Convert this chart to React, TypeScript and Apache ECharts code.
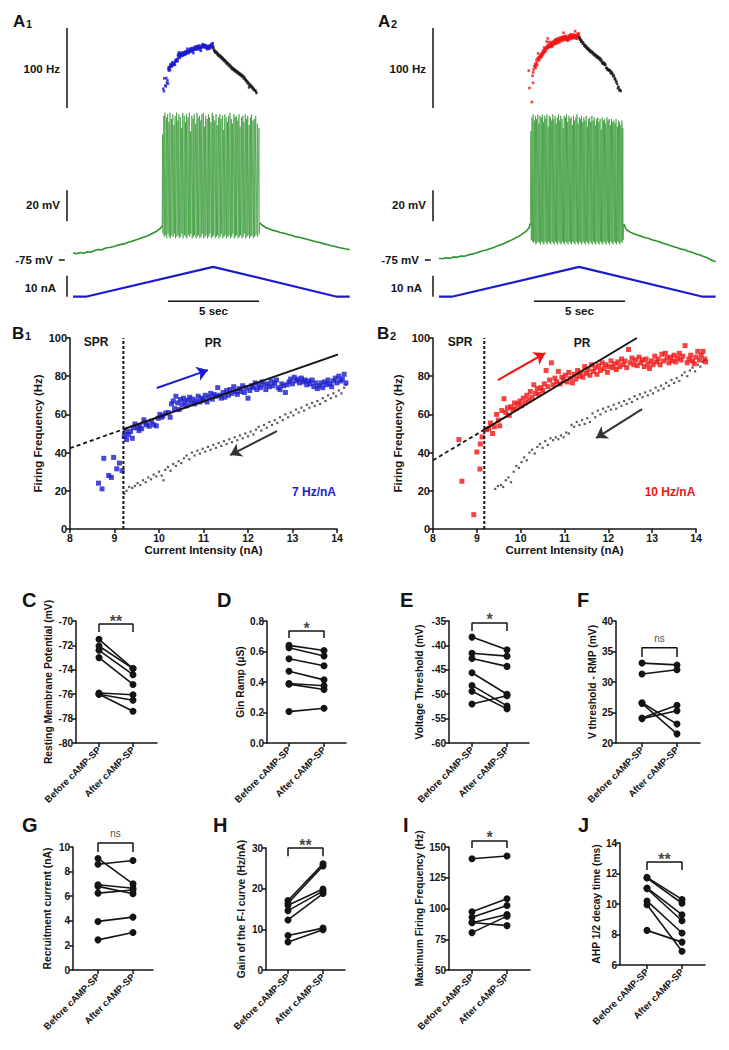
import React, { useEffect, useRef } from "react";
import * as echarts from "echarts";

const FONT = 'Arial, "Liberation Sans", Helvetica, sans-serif';
const INK = "#141414";
const GREEN = "#2a932a";
const BLUE = "#1c1ccd";
const RED = "#f01414";

// ---------- current ramp (time s, current nA) ----------
const rampTime = [0, 0.7, 7.7, 14.5, 15.2];
const rampCurrent = [0, 0, 14.2, 0, 0];

// ---------- B1 : control F-I relation (current nA, frequency Hz) ----------
const b1Ascending = [
  [8.64, 24], [8.72, 21], [8.76, 37], [8.87, 28], [8.93, 27], [8.98, 37.5], [9.05, 31.5], [9.11, 34.5], [9.17, 30.5],
  [9.22, 48.5], [9.25, 51], [9.27, 46.8], [9.31, 49.5], [9.36, 51], [9.4, 47.5], [9.42, 53], [9.46, 55], [9.51, 53],
  [9.55, 51.5], [9.57, 54], [9.61, 52.5], [9.66, 57.2], [9.7, 55.5], [9.72, 54.5], [9.78, 53.8], [9.83, 56.4], [9.88, 54.6],
  [9.94, 54], [9.98, 58], [10.02, 60], [10.06, 58.5], [10.09, 59.3], [10.15, 60.7], [10.21, 61], [10.25, 58.5], [10.28, 65.5],
  [10.32, 67], [10.35, 63], [10.38, 69.5], [10.42, 66], [10.45, 62.5], [10.48, 67.8], [10.52, 65], [10.55, 68.5], [10.58, 66.5],
  [10.62, 64.5], [10.65, 67.5], [10.69, 69], [10.72, 66], [10.76, 68], [10.8, 65.5], [10.84, 67], [10.88, 69.5], [10.92, 66.5],
  [10.96, 68.5], [11.0, 67.5], [11.04, 70], [11.08, 66.5], [11.12, 69], [11.16, 71], [11.2, 68], [11.24, 70.5], [11.28, 69.5],
  [11.32, 74], [11.36, 70], [11.4, 68.5], [11.44, 71.5], [11.48, 69], [11.52, 72.5], [11.56, 70], [11.6, 73], [11.64, 71],
  [11.68, 74.5], [11.72, 72], [11.76, 70.5], [11.8, 73.5], [11.84, 72], [11.88, 75], [11.92, 71.5], [11.96, 74], [12.0, 68.5],
  [12.04, 72.5], [12.08, 75], [12.12, 74], [12.16, 76.5], [12.2, 73], [12.24, 75.5], [12.28, 74], [12.32, 77], [12.36, 75.5],
  [12.4, 73], [12.44, 76], [12.48, 74.5], [12.52, 77.5], [12.56, 75], [12.6, 76.5], [12.64, 78], [12.68, 74], [12.72, 73],
  [12.76, 76], [12.8, 75], [12.84, 71.5], [12.88, 75.5], [12.92, 77], [12.96, 78.5], [13.0, 76], [13.04, 79.5], [13.08, 77.5],
  [13.12, 78.5], [13.16, 76.5], [13.2, 79], [13.24, 77], [13.28, 78], [13.32, 75.5], [13.36, 77.5], [13.4, 76], [13.44, 78],
  [13.48, 74.5], [13.52, 76.5], [13.56, 73.5], [13.6, 75], [13.64, 76.5], [13.68, 74], [13.72, 77], [13.76, 75.5], [13.8, 78],
  [13.84, 76], [13.88, 74.5], [13.92, 77.5], [13.96, 79], [14.0, 76.5], [14.04, 80], [14.08, 77.5], [14.12, 78.5], [14.16, 81],
  [14.2, 76.5],
];
const b1Descending = [
  [9.22, 18.5], [9.27, 20], [9.33, 22], [9.4, 21.5], [9.46, 22.5], [9.52, 24], [9.58, 23], [9.64, 25.5], [9.7, 24.5],
  [9.76, 27], [9.82, 26], [9.88, 28.5], [9.94, 27.5], [10.0, 30], [10.06, 28], [10.1, 25.5], [10.14, 31], [10.2, 32.5],
  [10.26, 30.5], [10.32, 34], [10.38, 33], [10.44, 35.5], [10.5, 34.5], [10.56, 37], [10.62, 38.5], [10.68, 36.5], [10.74, 40],
  [10.8, 38.5], [10.86, 41], [10.92, 39.5], [10.98, 42], [11.04, 40.5], [11.1, 43], [11.16, 41.5], [11.22, 44], [11.28, 42.5],
  [11.34, 45], [11.4, 43.5], [11.46, 46], [11.52, 44.5], [11.58, 47], [11.64, 45.5], [11.7, 48], [11.76, 46.5], [11.82, 49],
  [11.88, 47.5], [11.94, 50], [12.0, 48.5], [12.06, 51], [12.12, 49.5], [12.18, 52], [12.24, 53.5], [12.3, 51.5], [12.36, 54.5],
  [12.42, 53], [12.48, 56], [12.54, 54.5], [12.6, 57], [12.66, 55.5], [12.72, 58.5], [12.78, 57], [12.84, 60], [12.9, 58.5],
  [12.96, 61], [13.02, 59.5], [13.08, 62.5], [13.14, 61], [13.2, 63.5], [13.26, 62], [13.32, 65], [13.38, 63.5], [13.44, 66],
  [13.5, 64.5], [13.56, 67], [13.62, 65.5], [13.68, 68.5], [13.74, 67], [13.8, 70], [13.86, 68.5], [13.92, 71], [13.98, 69.5],
  [14.04, 72.5], [14.1, 71], [14.16, 74], [14.2, 75.5],
];
const b1FitDashed = [[8, 42.3], [9.2, 52.2]];
const b1FitSolid = [[9.2, 52.2], [14.22, 93]];
const b1Threshold = 9.2;
const b1ArrowUp = [[9.95, 73.8], [11.1, 83.2]];
const b1ArrowDown = [[12.65, 51.3], [11.6, 38.7]];

// ---------- B2 : after cAMP-SP ----------
const b2Ascending = [
  [8.59, 46.8], [8.66, 25], [8.93, 7.5], [9.0, 40.3], [9.07, 31.4], [9.08, 44.5], [9.12, 48.2],
  [9.22, 52], [9.27, 52.5], [9.31, 55.5], [9.36, 50], [9.4, 53.5], [9.45, 60], [9.49, 57], [9.52, 54], [9.57, 62], [9.62, 68.2],
  [9.66, 61], [9.7, 63.5], [9.74, 59.5], [9.78, 64], [9.82, 62.5], [9.86, 66], [9.9, 63], [9.94, 65.5], [9.98, 67], [10.02, 64.5],
  [10.06, 68.5], [10.1, 66], [10.14, 70], [10.18, 67.5], [10.22, 72], [10.26, 69], [10.3, 75.5], [10.34, 71], [10.38, 73.5],
  [10.42, 70.5], [10.46, 74], [10.5, 72.5], [10.54, 76], [10.58, 83], [10.62, 74.5], [10.66, 78], [10.7, 87], [10.74, 75.5],
  [10.78, 79], [10.82, 77], [10.86, 82.5], [10.9, 76], [10.94, 79.5], [10.98, 78], [11.02, 80.5], [11.06, 77], [11.1, 82],
  [11.14, 79], [11.18, 76.5], [11.22, 81], [11.26, 78.5], [11.3, 83], [11.34, 80], [11.38, 82], [11.42, 79.5], [11.46, 85],
  [11.5, 81.5], [11.54, 83.5], [11.58, 80.5], [11.62, 86], [11.66, 82.5], [11.7, 84.5], [11.74, 81], [11.78, 85.5], [11.82, 83],
  [11.86, 87], [11.9, 84], [11.94, 86], [11.98, 82], [12.02, 85], [12.06, 88], [12.1, 84.5], [12.14, 86.5], [12.18, 83.5],
  [12.22, 87.5], [12.26, 85], [12.3, 89], [12.34, 86], [12.38, 88], [12.42, 84.5], [12.46, 94], [12.5, 87], [12.54, 89.5],
  [12.58, 86], [12.62, 88.5], [12.66, 85.5], [12.7, 90], [12.74, 87], [12.78, 88.5], [12.82, 85], [12.86, 89], [12.9, 86.5],
  [12.94, 84], [12.98, 88], [13.02, 86], [13.06, 90.5], [13.1, 87.5], [13.14, 89], [13.18, 86], [13.22, 91.5], [13.26, 88],
  [13.3, 92], [13.34, 89.5], [13.38, 87], [13.42, 90], [13.46, 88], [13.5, 91], [13.54, 87.5], [13.58, 89.5], [13.62, 92],
  [13.66, 88.5], [13.7, 90.5], [13.75, 96], [13.8, 87], [13.84, 89], [13.88, 91], [13.92, 88], [13.96, 86.5], [14.0, 90],
  [14.04, 93], [14.08, 88.5], [14.12, 91], [14.16, 93], [14.2, 89], [14.22, 87.5],
];
const b2Descending = [
  [9.42, 21], [9.48, 22.5], [9.55, 23], [9.6, 22], [9.66, 25.5], [9.72, 27], [9.78, 24.5], [9.84, 30], [9.9, 33], [9.96, 32],
  [10.02, 35], [10.08, 37.5], [10.14, 36], [10.2, 40], [10.26, 41.5], [10.32, 39.5], [10.38, 43], [10.44, 44.5], [10.5, 42.5],
  [10.56, 46], [10.62, 44], [10.68, 47.5], [10.74, 46.5], [10.8, 48], [10.86, 47], [10.92, 49], [10.98, 48], [11.04, 50.5],
  [11.1, 50], [11.16, 54.5], [11.22, 53.5], [11.28, 56], [11.34, 54.5], [11.4, 57], [11.46, 55], [11.52, 58], [11.58, 56],
  [11.64, 60.5], [11.7, 58.5], [11.76, 62], [11.82, 60], [11.88, 63], [11.94, 61.5], [12.0, 64], [12.06, 62.5], [12.12, 65],
  [12.18, 63], [12.24, 66], [12.3, 64.5], [12.36, 67], [12.42, 65.5], [12.48, 68], [12.54, 66.5], [12.6, 69.5], [12.66, 68],
  [12.72, 70.5], [12.78, 69], [12.84, 71.5], [12.9, 70], [12.96, 72.5], [13.02, 71], [13.08, 74], [13.14, 72.5], [13.2, 75],
  [13.26, 73.5], [13.32, 76.5], [13.38, 75], [13.44, 78], [13.5, 76.5], [13.56, 79], [13.62, 77.5], [13.68, 80.5], [13.74, 82],
  [13.8, 80], [13.86, 83], [13.92, 84.5], [13.98, 82.5], [14.04, 86], [14.1, 85], [14.16, 87.5], [14.2, 88.5],
];
const b2FitDashed = [[8, 36], [9.17, 52]];
const b2FitSolid = [[9.17, 52], [12.65, 100]];
const b2Threshold = 9.17;
const b2ArrowUp = [[9.48, 78], [10.56, 92.1]];
const b2ArrowDown = [[12.77, 62.8], [11.72, 47.6]];

// ---------- A1 membrane potential (time s, mV) ----------
const a1PreBurst = [
  [0, -70.5], [0.2, -70.9], [0.4, -70.2], [0.6, -70.6], [0.8, -69.7], [1.0, -69.9], [1.2, -68.9], [1.4, -68.2], [1.6, -68.4],
  [1.8, -67.3], [2.0, -66.9], [2.2, -66.4], [2.4, -65.6], [2.6, -65.1], [2.8, -64.6], [3.0, -63.7], [3.2, -63.1], [3.4, -62.2],
  [3.6, -61.5], [3.8, -60.6], [4.0, -59.8], [4.2, -58.9], [4.4, -57.6], [4.6, -56.4], [4.8, -54.6], [4.9, -53.0],
];
// [time, spike peak, after-hyperpolarisation trough]
const a1Spikes = [
  [4.92, 6, -58], [4.99, 18, -60], [5.05, 20, -59], [5.13, 17, -61], [5.2, 19, -58], [5.27, 14, -60], [5.33, 20, -61],
  [5.41, 16, -59], [5.48, 19, -60], [5.55, 12, -58], [5.61, 18, -61], [5.69, 20, -60], [5.76, 15, -59], [5.82, 19, -61],
  [5.9, 17, -60], [5.97, 10, -58], [6.03, 20, -61], [6.11, 18, -59], [6.18, 14, -60], [6.24, 19, -61], [6.32, 17, -59],
  [6.39, 20, -60], [6.45, 8, -58], [6.53, 18, -61], [6.6, 16, -60], [6.66, 19, -59], [6.74, 13, -61], [6.81, 20, -60],
  [6.87, 17, -59], [6.95, 18, -61], [7.02, 15, -60], [7.08, 19, -58], [7.16, 20, -61], [7.23, 11, -60], [7.29, 18, -59],
  [7.37, 16, -61], [7.44, 19, -60], [7.5, 17, -58], [7.58, 14, -61], [7.65, 20, -60], [7.71, 18, -59], [7.79, 15, -61],
  [7.86, 19, -60], [7.92, 12, -59], [8.0, 17, -61], [8.07, 19, -60], [8.13, 16, -58], [8.21, 18, -61], [8.28, 9, -60],
  [8.34, 19, -59], [8.42, 17, -61], [8.49, 14, -60], [8.55, 18, -59], [8.63, 20, -61], [8.7, 16, -60], [8.76, 13, -58],
  [8.84, 19, -61], [8.91, 17, -60], [8.97, 18, -59], [9.05, 15, -61], [9.12, 19, -60], [9.18, 11, -59], [9.26, 17, -61],
  [9.33, 18, -60], [9.39, 14, -58], [9.47, 19, -61], [9.54, 16, -60], [9.6, 18, -59], [9.68, 12, -61], [9.75, 17, -60],
  [9.81, 19, -59], [9.89, 15, -61], [9.96, 16, -60], [10.04, 18, -59], [10.13, 13, -60], [10.22, 10, -58],
];
const a1PostBurst = [
  [10.26, -51.0], [10.4, -52.6], [10.6, -54.2], [10.8, -55.0], [11.0, -55.9], [11.2, -56.5], [11.4, -57.3], [11.6, -57.7],
  [11.8, -58.5], [12.0, -59.0], [12.2, -59.9], [12.4, -60.2], [12.6, -60.9], [12.8, -61.5], [13.0, -62.1], [13.2, -62.7],
  [13.4, -63.4], [13.6, -63.8], [13.8, -64.6], [14.0, -65.2], [14.2, -65.8], [14.4, -66.3], [14.6, -66.9], [14.8, -67.4],
  [15.0, -67.9], [15.2, -68.3],
];

// ---------- A2 membrane potential ----------
const a2PreBurst = [
  [0, -73.9], [0.2, -74.2], [0.4, -73.5], [0.6, -73.8], [0.8, -73.0], [1.0, -73.3], [1.2, -72.4], [1.4, -72.6], [1.6, -71.7],
  [1.8, -71.2], [2.0, -70.6], [2.2, -69.9], [2.4, -69.0], [2.6, -68.6], [2.8, -67.7], [3.0, -67.0], [3.2, -65.9], [3.4, -65.2],
  [3.6, -64.2], [3.8, -63.1], [4.0, -62.0], [4.2, -60.8], [4.4, -59.6], [4.6, -58.0], [4.8, -56.4], [4.95, -54.2], [5.02, -51.5],
];
const a2Spikes = [
  [5.05, 8, -62], [5.11, 17, -63], [5.17, 19, -64], [5.24, 15, -63], [5.3, 18, -65], [5.36, 16, -64], [5.43, 19, -63],
  [5.49, 13, -64], [5.55, 18, -65], [5.62, 17, -63], [5.68, 19, -64], [5.74, 14, -65], [5.81, 18, -63], [5.87, 16, -64],
  [5.93, 19, -65], [6.0, 11, -63], [6.06, 18, -64], [6.12, 17, -65], [6.19, 15, -63], [6.25, 19, -64], [6.31, 16, -65],
  [6.38, 18, -63], [6.44, 13, -64], [6.5, 17, -65], [6.57, 19, -63], [6.63, 15, -64], [6.69, 18, -65], [6.76, 16, -63],
  [6.82, 10, -64], [6.88, 18, -65], [6.95, 17, -63], [7.01, 19, -64], [7.07, 14, -65], [7.14, 18, -63], [7.2, 16, -64],
  [7.26, 17, -65], [7.33, 12, -63], [7.39, 18, -64], [7.45, 15, -65], [7.52, 17, -63], [7.58, 19, -64], [7.64, 13, -65],
  [7.71, 17, -63], [7.77, 16, -64], [7.83, 18, -65], [7.9, 14, -63], [7.96, 17, -64], [8.02, 15, -65], [8.09, 18, -63],
  [8.15, 11, -64], [8.21, 16, -65], [8.28, 17, -63], [8.34, 14, -64], [8.4, 18, -65], [8.47, 15, -63], [8.53, 17, -64],
  [8.59, 12, -65], [8.66, 16, -63], [8.72, 17, -64], [8.78, 14, -65], [8.85, 16, -63], [8.91, 9, -64], [8.97, 17, -65],
  [9.04, 15, -63], [9.1, 16, -64], [9.16, 13, -65], [9.23, 17, -63], [9.29, 15, -64], [9.35, 16, -65], [9.42, 12, -63],
  [9.48, 16, -64], [9.54, 14, -65], [9.61, 15, -63], [9.67, 13, -64], [9.73, 16, -65], [9.8, 11, -63], [9.86, 15, -64],
  [9.92, 14, -65], [9.99, 12, -63], [10.05, 15, -64], [10.1, 10, -62],
];
const a2PostBurst = [
  [10.15, -51.8], [10.3, -55.5], [10.5, -57.0], [10.7, -58.1], [10.9, -58.9], [11.1, -59.6], [11.3, -60.5], [11.5, -61.0],
  [11.7, -61.9], [11.9, -62.6], [12.1, -63.2], [12.3, -64.2], [12.5, -64.8], [12.7, -65.6], [12.9, -66.4], [13.1, -67.1],
  [13.3, -68.0], [13.5, -68.4], [13.7, -69.3], [13.9, -70.0], [14.1, -70.9], [14.3, -71.6], [14.5, -72.6], [14.7, -73.4],
  [14.9, -74.5], [15.05, -75.5], [15.2, -76.1],
];

// ---------- paired comparisons ----------
const pairedGroups = ["Before cAMP-SP", "After cAMP-SP"];
const cBefore = [-71.5, -72.05, -72.4, -73.0, -75.9, -76.0, -76.0];
const cAfter = [-73.9, -73.9, -74.4, -75.2, -76.05, -76.5, -77.4];
const dBefore = [0.64, 0.625, 0.552, 0.471, 0.39, 0.386, 0.206];
const dAfter = [0.607, 0.57, 0.506, 0.414, 0.375, 0.351, 0.228];
const eBefore = [-38.3, -41.6, -42.7, -45.6, -48.2, -49.4, -52.0];
const eAfter = [-40.9, -42.2, -44.3, -50.0, -52.4, -53.0, -50.3];
const fBefore = [33.1, 31.3, 26.6, 26.5, 24.1, 24.0];
const fAfter = [32.8, 32.0, 23.1, 21.5, 26.2, 25.3];
const gBefore = [9.07, 8.6, 6.93, 6.8, 6.25, 3.95, 2.45];
const gAfter = [7.0, 8.9, 6.65, 6.2, 6.5, 4.3, 3.05];
const hBefore = [17.1, 16.4, 15.9, 14.6, 12.3, 8.5, 6.9];
const hAfter = [26.1, 25.6, 19.9, 19.4, 18.8, 10.3, 9.9];
const iBefore = [140.5, 97.3, 92.9, 88.6, 88.4, 80.4];
const iAfter = [142.7, 107.9, 102.4, 86.1, 95.1, 93.8];
const jBefore = [11.75, 11.7, 11.05, 11.0, 10.2, 9.95, 8.27];
const jAfter = [10.3, 10.05, 9.3, 8.9, 8.1, 6.9, 7.5];

// ---------- helpers ----------
function timeOnRamp(current: number, rising: boolean) {
  const i0 = rising ? 1 : 2;
  const i1 = rising ? 2 : 3;
  return rampTime[i0] + ((current - rampCurrent[i0]) * (rampTime[i1] - rampTime[i0])) / (rampCurrent[i1] - rampCurrent[i0]);
}

function buildOption() {
  const grid: any[] = [];
  const xAxis: any[] = [];
  const yAxis: any[] = [];
  const series: any[] = [];
  const graphic: any[] = [];

  const addGrid = (box: any, x: any, y: any) => {
    const i = grid.length;
    grid.push({ ...box, containLabel: false });
    xAxis.push({ ...x, gridIndex: i });
    yAxis.push({ ...y, gridIndex: i });
    return i;
  };
  const hidden = (min: number, max: number) => ({ type: "value", min, max, show: false });
  const line = (gi: number, data: any[], color: string, width: number, extra: any = {}) => {
    series.push({
      type: "line", xAxisIndex: gi, yAxisIndex: gi, data, symbol: "none", silent: true, clip: false,
      lineStyle: { color, width, ...(extra.lineStyle || {}) }, z: extra.z ?? 2,
    });
  };
  const text = (x: number, y: number, str: string, size: number, opts: any = {}) => {
    graphic.push({
      type: "text", x, y, silent: true,
      style: {
        text: str, fill: opts.fill || INK,
        font: `${opts.weight || "bold"} ${size}px ${FONT}`,
        align: opts.align || "left", verticalAlign: opts.valign || "middle",
      },
    });
  };

  // ----- A panels -----
  const PX_PER_S = 18.2;
  const buildTrace = (off: number, pre: number[][], spikes: number[][], post: number[][],
    up: number[][], down: number[][], upColor: string) => {
    const left = 73 + off - 0.9 * PX_PER_S;
    const width = 16.2 * PX_PER_S;
    const gF = addGrid({ left, width, top: 28, height: 80 }, hidden(-0.9, 15.3), hidden(0, 100));
    const gV = addGrid({ left, width, top: 97.25, height: 170.5 }, hidden(-0.9, 15.3), hidden(-80, 30));
    const gI = addGrid({ left, width, top: 265.2, height: 37.8 }, hidden(-0.9, 15.3), hidden(-3, 15));
    const bar = -0.33;
    series.push({
      type: "scatter", xAxisIndex: gF, yAxisIndex: gF, symbol: "rect", symbolSize: 2.6, silent: true,
      itemStyle: { color: upColor }, data: up.map(([c, f]) => [timeOnRamp(c, true), f]),
    });
    series.push({
      type: "scatter", xAxisIndex: gF, yAxisIndex: gF, symbol: "rect", symbolSize: 2.2, silent: true,
      itemStyle: { color: INK }, data: down.map(([c, f]) => [timeOnRamp(c, false), f]),
    });
    line(gF, [[bar, 0], [bar, 100]], INK, 1.5);
    line(gV, pre, GREEN, 1.6);
    const burst: number[][] = [pre[pre.length - 1]];
    spikes.forEach(([t, pk, tr]) => {
      burst.push([t, pk]);
      burst.push([t + 0.02, tr]);
    });
    burst.push(post[0]);
    series.push({
      type: "line", xAxisIndex: gV, yAxisIndex: gV, data: burst, symbol: "none", silent: true,
      lineStyle: { color: GREEN, width: 0.7, opacity: 0.9 },
    });
    line(gV, post, GREEN, 1.6);
    line(gV, [[bar, -50], [bar, -30]], INK, 1.5);
    line(gV, [[-0.78, -75], [-0.45, -75]], INK, 1.5);
    line(gI, rampTime.map((t, i) => [t, rampCurrent[i]]), BLUE, 2.2);
    line(gI, [[bar, 0], [bar, 10]], INK, 1.5);
    line(gI, [[5.22, -2.2], [10.22, -2.2]], INK, 1.5);

    text(60 + off, 69, "100 Hz", 11.5, { align: "right" });
    text(60 + off, 205, "20 mV", 11.5, { align: "right" });
    text(53 + off, 260, "-75 mV", 11.5, { align: "right" });
    text(56 + off, 288, "10 nA", 11.5, { align: "right" });
    text(213.5 + off, 311, "5 sec", 11.5, { align: "center" });
  };
  buildTrace(0, a1PreBurst, a1Spikes, a1PostBurst, b1Ascending, b1Descending, BLUE);
  buildTrace(366, a2PreBurst, a2Spikes, a2PostBurst, b2Ascending, b2Descending, RED);

  // ----- B panels -----
  const axisLineStyle = { color: INK, width: 1.5 };
  const buildFI = (left: number, width: number, up: number[][], down: number[][], upColor: string,
    fitDashed: number[][], fitSolid: number[][], threshold: number, arrowUp: number[][], arrowDown: number[][], nameGap: number) => {
    const gi = addGrid(
      { left, width, top: 338, height: 191 },
      {
        type: "value", min: 8, max: 14, interval: 1,
        axisLine: { onZero: false, lineStyle: axisLineStyle },
        axisTick: { length: 4, lineStyle: axisLineStyle },
        axisLabel: { color: INK, fontWeight: "bold", fontSize: 10.5, margin: 3, fontFamily: FONT },
        splitLine: { show: false },
        name: "Current Intensity (nA)", nameLocation: "middle", nameGap: 12,
        nameTextStyle: { color: INK, fontWeight: "bold", fontSize: 11.5, fontFamily: FONT },
      },
      {
        type: "value", min: 0, max: 100, interval: 20,
        axisLine: { onZero: false, lineStyle: axisLineStyle },
        axisTick: { length: 4, lineStyle: axisLineStyle },
        axisLabel: { color: INK, fontWeight: "bold", fontSize: 11, margin: 3, fontFamily: FONT },
        splitLine: { show: false },
        name: "Firing Frequency (Hz)", nameLocation: "middle", nameGap, nameRotate: 90,
        nameTextStyle: { color: INK, fontWeight: "bold", fontSize: 11.5, fontFamily: FONT },
      }
    );
    series.push({
      type: "scatter", xAxisIndex: gi, yAxisIndex: gi, symbol: "rect", symbolSize: 2.2, silent: true, clip: false,
      itemStyle: { color: "#333" }, data: down,
    });
    series.push({
      type: "scatter", xAxisIndex: gi, yAxisIndex: gi, symbol: "rect", symbolSize: 5, silent: true, clip: false,
      itemStyle: { color: upColor }, data: up,
      markLine: {
        silent: true, symbol: ["none", "arrow"], symbolSize: 11, animation: false,
        label: { show: false },
        data: [
          [{ coord: arrowUp[0], lineStyle: { color: upColor, width: 2, type: "solid" } }, { coord: arrowUp[1] }],
          [{ coord: arrowDown[0], lineStyle: { color: "#333", width: 2, type: "solid" } }, { coord: arrowDown[1] }],
        ],
      },
    });
    line(gi, [[threshold, 0], [threshold, 100]], INK, 2, { lineStyle: { type: [3, 2] }, z: 3 });
    line(gi, fitDashed, INK, 1.8, { lineStyle: { type: [4, 3] }, z: 3 });
    line(gi, fitSolid, INK, 2, { z: 3 });
  };
  buildFI(70, 267, b1Ascending, b1Descending, BLUE, b1FitDashed, b1FitSolid, b1Threshold, b1ArrowUp, b1ArrowDown, 26);
  buildFI(433, 263, b2Ascending, b2Descending, RED, b2FitDashed, b2FitSolid, b2Threshold, b2ArrowUp, b2ArrowDown, 29);

  text(96, 342, "SPR", 12, { align: "center" });
  text(213, 343, "PR", 12, { align: "center" });
  text(460, 342, "SPR", 12, { align: "center" });
  text(582, 343, "PR", 12, { align: "center" });
  text(314, 492, "7 Hz/nA", 12, { align: "center", fill: BLUE });
  text(670, 492, "10 Hz/nA", 12, { align: "center", fill: RED });

  // ----- paired panels -----
  const buildPaired = (box: any, y: any, before: number[], after: number[], bracket: number[], mark: string) => {
    const ppu = box.after - box.before;
    const gi = addGrid(
      { left: box.left, top: box.top, width: box.end - box.left, height: box.bottom - box.top },
      {
        type: "value", min: -(box.before - box.left) / ppu, max: 1 + (box.end - box.after) / ppu,
        axisLine: { onZero: false, lineStyle: axisLineStyle },
        axisTick: { customValues: [0, 1], length: 4, lineStyle: axisLineStyle },
        axisLabel: {
          customValues: [0, 1], rotate: 45, margin: 5,
          formatter: (v: number) => pairedGroups[Math.round(v)],
          color: INK, fontSize: 9.5, fontWeight: "bold", fontFamily: FONT,
        },
        splitLine: { show: false },
      },
      {
        type: "value", min: y.min, max: y.max, interval: y.interval,
        axisLine: { onZero: false, lineStyle: axisLineStyle },
        axisTick: { length: 4, lineStyle: axisLineStyle },
        axisLabel: {
          color: INK, fontSize: 10, fontWeight: "bold", margin: 3, fontFamily: FONT,
          formatter: y.fmt || ((v: number) => String(v)),
        },
        splitLine: { show: false },
        name: y.name, nameLocation: "middle", nameGap: y.gap, nameRotate: 90,
        nameTextStyle: { color: INK, fontSize: 10.3, fontWeight: "bold", fontFamily: FONT },
      }
    );
    before.forEach((b, i) => {
      series.push({
        type: "line", xAxisIndex: gi, yAxisIndex: gi, data: [[0, b], [1, after[i]]], silent: true,
        symbol: "circle", symbolSize: 7, itemStyle: { color: INK }, lineStyle: { color: INK, width: 1.6 },
      });
    });
    const [top, tail] = bracket;
    series.push({
      type: "line", xAxisIndex: gi, yAxisIndex: gi, symbol: "none", silent: true, clip: false,
      data: [[0, tail], [0, top], [1, top], [1, tail]], lineStyle: { color: INK, width: 1.5 },
    });
    const isStar = mark.indexOf("*") >= 0;
    series.push({
      type: "scatter", xAxisIndex: gi, yAxisIndex: gi, symbolSize: 0, silent: true, clip: false,
      data: [[0.5, top]],
      label: {
        show: true, position: "top", formatter: mark, color: INK, fontFamily: FONT,
        fontSize: isStar ? 16 : 10, fontWeight: isStar ? "bold" : "normal",
        distance: isStar ? 0 : 4, offset: isStar ? [0, 5] : [0, 0],
      },
    });
  };

  buildPaired({ left: 76, before: 99, after: 133, end: 157, top: 621, bottom: 743 },
    { min: -80, max: -70, interval: 2, name: "Resting Membrane Potential (mV)", gap: 23 }, cBefore, cAfter, [-70.25, -70.9], "**");
  buildPaired({ left: 267, before: 289, after: 324, end: 346, top: 621, bottom: 743 },
    { min: 0, max: 0.8, interval: 0.2, name: "Gin Ramp (\u03bcS)", gap: 22, fmt: (v: number) => v.toFixed(1) }, dBefore, dAfter, [0.734, 0.689], "*");
  buildPaired({ left: 449, before: 472, after: 507, end: 529, top: 621, bottom: 743 },
    { min: -60, max: -35, interval: 5, name: "Voltage Threshold (mV)", gap: 25 }, eBefore, eAfter, [-35.4, -37.05], "*");
  buildPaired({ left: 616, before: 642, after: 677, end: 700, top: 621, bottom: 743 },
    { min: 20, max: 40, interval: 5, name: "V threshold - RMP (mV)", gap: 17 }, fBefore, fAfter, [35.6, 34.1], "ns");
  buildPaired({ left: 73, before: 98, after: 133, end: 153, top: 847, bottom: 970 },
    { min: 0, max: 10, interval: 2, name: "Recruitment current (nA)", gap: 21 }, gBefore, gAfter, [10.33, 9.6], "ns");
  buildPaired({ left: 266, before: 288, after: 323, end: 345, top: 848, bottom: 970 },
    { min: 0, max: 30, interval: 10, name: "Gain of the F-I curve (Hz/nA)", gap: 20 }, hBefore, hAfter, [30, 28], "**");
  buildPaired({ left: 449, before: 472, after: 507, end: 530, top: 847, bottom: 970 },
    { min: 50, max: 150, interval: 25, name: "Maximum Firing Frequency (Hz)", gap: 25 }, iBefore, iAfter, [154.9, 149.2], "*");
  buildPaired({ left: 620, before: 647, after: 682, end: 705, top: 843, bottom: 965 },
    { min: 6, max: 14, interval: 2, name: "AHP 1/2 decay time (ms)", gap: 18 }, jBefore, jAfter, [12.75, 12.23], "**");

  // ----- panel letters -----
  const letter = (x: number, y: number, l: string, sub?: string, size = 17) => {
    text(x, y, l, size, { valign: "top" });
    if (sub) text(x + size * 0.7 + 1, y + 5, sub, 11, { valign: "top" });
  };
  letter(13, 13, "A", "1");
  letter(378, 13, "A", "2");
  letter(12, 325, "B", "1");
  letter(377, 325, "B", "2");
  letter(22, 590, "C", undefined, 20);
  letter(217, 590, "D", undefined, 20);
  letter(400, 590, "E", undefined, 20);
  letter(577, 590, "F", undefined, 20);
  letter(22, 815, "G", undefined, 20);
  letter(213, 815, "H", undefined, 20);
  letter(403, 815, "I", undefined, 20);
  letter(578, 815, "J", undefined, 20);

  return {
    animation: false,
    backgroundColor: "#ffffff",
    textStyle: { fontFamily: FONT },
    grid, xAxis, yAxis, series, graphic,
  };
}

export default function App() {
  const ref = useRef<HTMLDivElement>(null);
  useEffect(() => {
    if (!ref.current) return;
    const chart = echarts.init(ref.current, null, { renderer: "svg" });
    chart.setOption(buildOption() as any);
    return () => chart.dispose();
  }, []);
  return (
    <div
      ref={ref}
      style={{ position: "absolute", left: 0, top: 0, width: 729, height: 1050, background: "#fff" }}
    />
  );
}
